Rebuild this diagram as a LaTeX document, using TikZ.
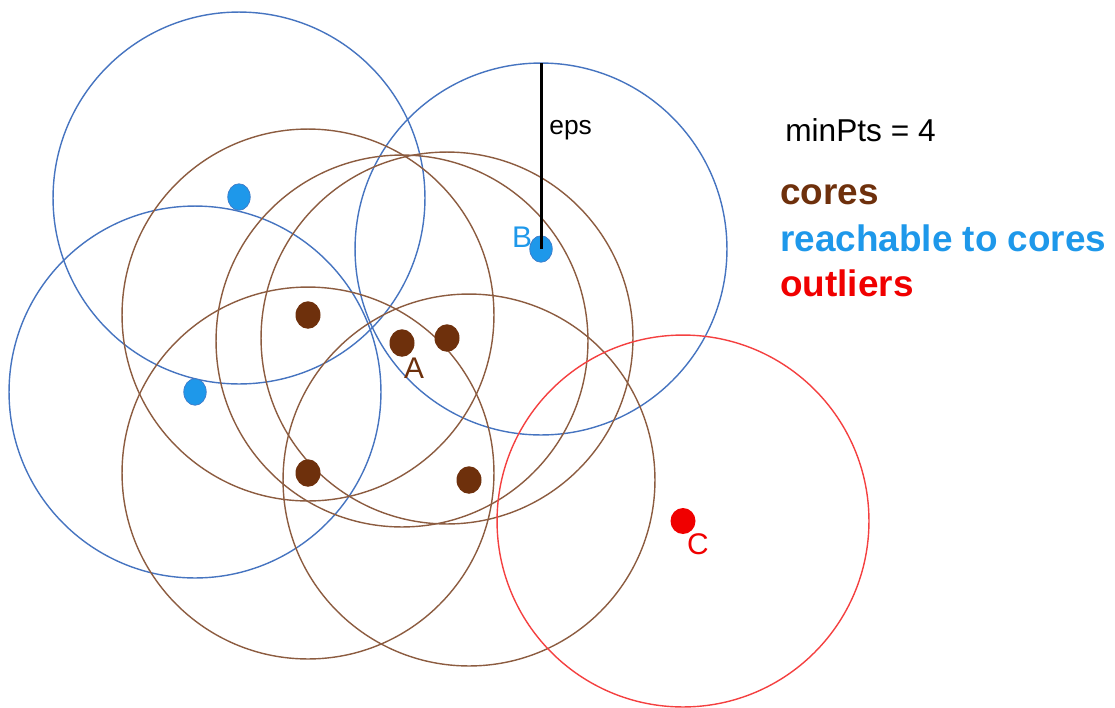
\documentclass[tikz,border=0pt]{standalone}
\usepackage{fontspec}
\setmainfont{Liberation Sans}
\usetikzlibrary{shapes.geometric}
\definecolor{corebrown}{RGB}{110,48,12}
\definecolor{ringbrown}{RGB}{140,92,64}
\definecolor{reachblue}{RGB}{30,152,234}
\definecolor{ringblue}{RGB}{70,116,192}
\definecolor{outred}{RGB}{240,0,0}
\begin{document}
\begin{tikzpicture}[x=0.02cm, y=-0.02cm,
    corept/.style={ellipse, fill=corebrown, inner sep=0, minimum width=0.5cm, minimum height=0.55cm},
    reachpt/.style={ellipse, fill=reachblue, draw=ringblue!80!reachblue, line width=0.4pt, inner sep=0, minimum width=0.45cm, minimum height=0.53cm},
    outpt/.style={ellipse, fill=outred, inner sep=0, minimum width=0.5cm, minimum height=0.52cm},
    corering/.style={draw=ringbrown, line width=0.8pt},
    reachring/.style={draw=ringblue, line width=0.8pt},
    outring/.style={draw=outred!75!white, line width=0.8pt},
    ptlabel/.style={inner sep=0, font=\fontsize{17}{19}\selectfont},
    legend/.style={anchor=west, inner sep=0, font=\bfseries\fontsize{21}{24}\selectfont}]
    \useasboundingbox (0,0) rectangle (1115,707);

    % neighbourhoods of radius eps
    \draw[reachring] (239,198) circle[radius=3.72cm];
    \draw[reachring] (195,392) circle[radius=3.72cm];
    \draw[reachring] (541,249) circle[radius=3.72cm];
    \draw[corering] (308,315) circle[radius=3.72cm];
    \draw[corering] (402,341) circle[radius=3.72cm];
    \draw[corering] (447,338) circle[radius=3.72cm];
    \draw[corering] (308,473) circle[radius=3.72cm];
    \draw[corering] (469,480) circle[radius=3.72cm];
    \draw[outring] (683,521) circle[radius=3.72cm];

    % points
    \node[reachpt] (r1) at (239,197) {};
    \node[reachpt] (r2) at (195,392) {};
    \node[reachpt] (b) at (541,249) {};
    \node[corept] (c1) at (308,315) {};
    \node[corept] (a) at (402,343) {};
    \node[corept] (c3) at (447,338) {};
    \node[corept] (c4) at (308,473) {};
    \node[corept] (c5) at (469,480) {};
    \node[outpt] (c) at (683,521) {};

    \node[ptlabel, text=corebrown] (alabel) at (414,368) {A};
    \node[ptlabel, text=reachblue] (blabel) at (522,237) {B};
    \node[ptlabel, text=outred] (clabel) at (698,544) {C};

    % eps radius
    \coordinate (epstop) at (541,63);
    \draw[line width=1.7pt] (epstop) -- (b.center);
    \node[inner sep=0, anchor=west, font=\fontsize{15}{17}\selectfont] (eps) at (549,130) {eps};

    % legend
    \node[inner sep=0, anchor=west, font=\fontsize{18}{20}\selectfont] (minpts) at (785,130) {minPts = 4};
    \node[legend, text=corebrown] (lcores) at (780,195) {cores};
    \node[legend, text=reachblue] (lreach) at (780,238) {reachable to cores};
    \node[legend, text=outred] (lout) at (780,283) {outliers};
\end{tikzpicture}
\end{document}
